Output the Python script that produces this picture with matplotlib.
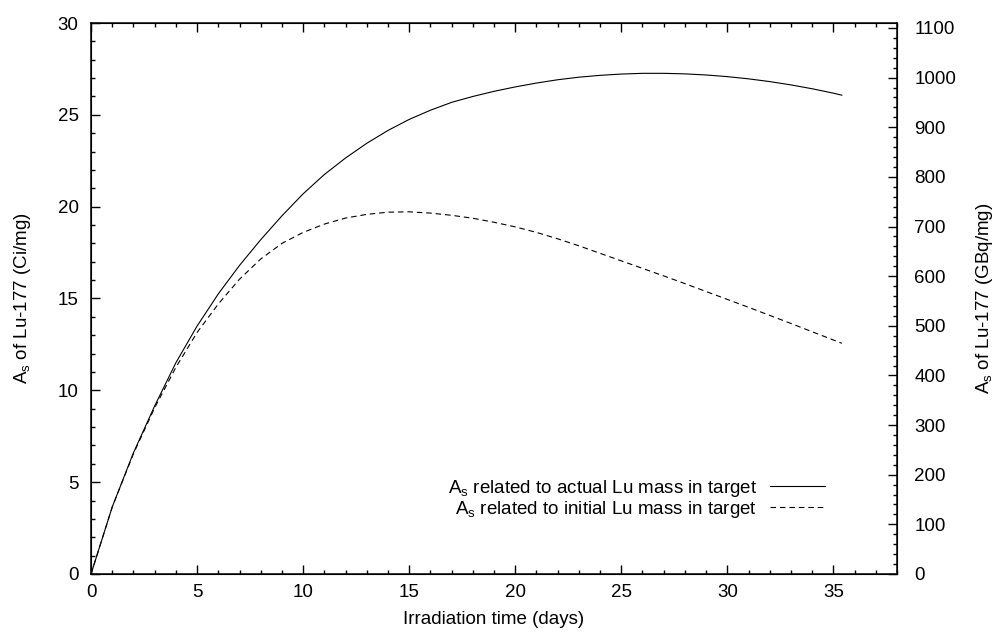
import matplotlib
matplotlib.use("Agg")
import matplotlib.pyplot as plt
from matplotlib.ticker import MultipleLocator

plt.rcParams['font.family'] = ['Liberation Sans', 'DejaVu Sans']
plt.rcParams['mathtext.default'] = 'regular'
plt.rcParams['font.size'] = 13.5

days = [0, 1, 2, 3, 4, 5, 6, 7, 8, 9, 10, 11, 12, 13, 14, 15, 16, 17, 18,
        19, 20, 21, 22, 23, 24, 25, 26, 27, 28, 29, 30, 31, 32, 33, 34, 35, 35.4]
as_actual = [0, 3.65, 6.6, 9.15, 11.5, 13.5, 15.25, 16.8, 18.2, 19.5, 20.7,
             21.75, 22.65, 23.45, 24.15, 24.75, 25.25, 25.68, 26.0, 26.28, 26.52,
             26.73, 26.91, 27.05, 27.15, 27.22, 27.26, 27.26, 27.23, 27.17, 27.08,
             26.96, 26.81, 26.63, 26.42, 26.18, 26.07]
as_initial = [0, 3.65, 6.55, 9.05, 11.25, 13.15, 14.7, 16.05, 17.15, 18.0, 18.6,
              19.05, 19.38, 19.58, 19.7, 19.72, 19.65, 19.53, 19.37, 19.15, 18.9,
              18.6, 18.25, 17.87, 17.46, 17.05, 16.64, 16.23, 15.81, 15.38, 14.95,
              14.52, 14.08, 13.64, 13.19, 12.74, 12.56]

ci_to_gbq = 37.0

fig = plt.figure(figsize=(9.96, 6.32), dpi=100)
ax = fig.add_axes([0.0914, 0.0918, 0.8092, 0.8718])

ax.plot(days, as_actual, color='black', lw=0.8,
        label=r'A$_{s}$ related to actual Lu mass in target')
ax.plot(days, as_initial, color='black', lw=0.8, linestyle=(0, (5, 3.5)),
        label=r'A$_{s}$ related to initial Lu mass in target')

ax.set_xlim(0, 38)
ax.set_ylim(0, 30)
ax.xaxis.set_major_locator(MultipleLocator(5))
ax.xaxis.set_minor_locator(MultipleLocator(1))
ax.yaxis.set_major_locator(MultipleLocator(5))
ax.yaxis.set_minor_locator(MultipleLocator(1))
ax.tick_params(which='both', direction='in', top=True, right=False, width=1.0)
ax.tick_params(which='major', length=6.5)
ax.tick_params(which='minor', length=3.2)
ax.tick_params(axis='x', which='major', pad=7)
ax.tick_params(axis='y', which='major', pad=9)
for s in ax.spines.values():
    s.set_linewidth(1.1)

ax.set_xlabel('Irradiation time (days)')
ax.set_ylabel(r'A$_{s}$ of Lu-177 (Ci/mg)')
ax.xaxis.set_label_coords(0.5, -0.068)
ax.yaxis.set_label_coords(-0.072, 0.5)

ax2 = ax.twinx()
ax2.set_ylim(0, 30 * ci_to_gbq)
ax2.yaxis.set_major_locator(MultipleLocator(100))
ax2.yaxis.set_minor_locator(MultipleLocator(20))
ax2.tick_params(which='both', direction='in', width=1.0)
ax2.tick_params(which='major', length=6.5, pad=12.5)
ax2.tick_params(which='minor', length=3.2)
ax2.set_ylabel(r'A$_{s}$ of Lu-177 (GBq/mg)')
ax2.yaxis.set_label_coords(1.096, 0.5)

ax.legend(loc='lower right', bbox_to_anchor=(0.9107, 0.098),
          frameon=False, markerfirst=False, handlelength=2.93,
          handletextpad=0.7, labelspacing=0.0, borderpad=0,
          borderaxespad=0)

fig.savefig('out.png', dpi=100)
